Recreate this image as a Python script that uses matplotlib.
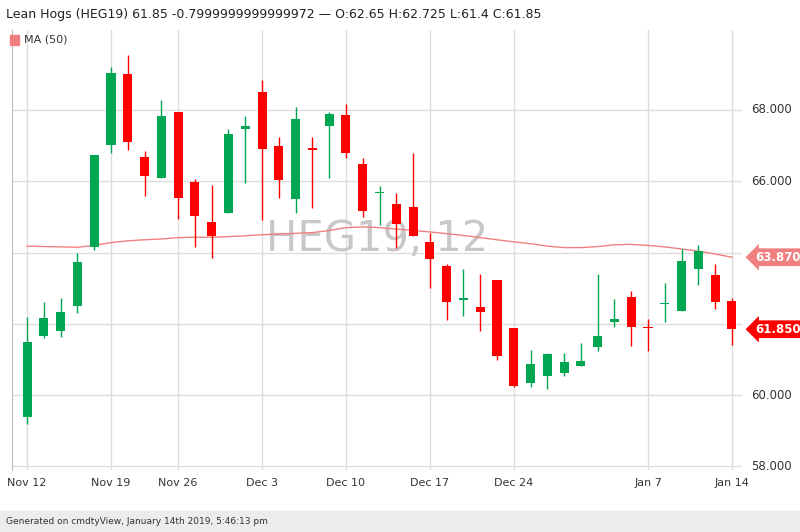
import matplotlib
matplotlib.use("Agg")
import matplotlib.pyplot as plt
from matplotlib.patches import Rectangle

dates = ["Nov 12","Nov 13","Nov 14","Nov 15","Nov 16","Nov 19","Nov 20","Nov 21","Nov 23",
         "Nov 26","Nov 27","Nov 28","Nov 29","Nov 30","Dec 3","Dec 4","Dec 5","Dec 6","Dec 7",
         "Dec 10","Dec 11","Dec 12","Dec 13","Dec 14","Dec 17","Dec 18","Dec 19","Dec 20","Dec 21",
         "Dec 24","Dec 26","Dec 27","Dec 28","Dec 31","Jan 2","Jan 3","Jan 4",
         "Jan 7","Jan 8","Jan 9","Jan 10","Jan 11","Jan 14"]
opens  = [59.38,61.65,61.79,62.49,64.15,67.02,69.00,66.69,66.10,67.95,65.99,64.86,65.10,67.46,68.50,66.99,65.49,66.92,67.55,
          67.86,66.48,65.66,65.36,65.27,64.31,63.63,62.68,62.47,63.22,61.89,60.33,60.54,60.62,60.81,61.34,62.05,62.76,
          61.92,62.55,62.36,63.53,63.36,62.65]
highs  = [62.19,62.60,62.72,63.98,66.74,69.20,69.55,66.85,68.28,67.95,66.06,65.89,67.47,67.83,68.84,67.25,68.09,67.25,67.95,
          68.17,66.64,65.87,65.68,66.78,64.55,63.69,63.53,63.41,63.22,61.89,61.28,61.18,61.18,61.47,63.41,62.71,62.93,
          62.13,63.15,64.09,64.21,63.67,62.725]
lows   = [59.20,61.60,61.62,62.30,64.07,66.80,66.88,65.60,66.10,64.94,64.16,63.84,65.10,65.96,64.90,65.53,65.12,65.26,66.08,
          66.64,64.99,64.77,64.12,64.46,63.02,62.12,62.21,61.80,61.00,60.23,60.23,60.18,60.54,60.81,61.24,61.91,61.38,
          61.24,62.06,62.36,63.08,62.43,61.40]
closes = [61.49,62.16,62.33,63.73,66.74,69.04,67.10,66.15,67.83,65.53,65.03,64.46,67.33,67.55,66.90,66.03,67.74,66.88,67.89,
          66.78,65.17,65.70,64.80,64.46,63.81,62.62,62.70,62.33,61.09,60.26,60.88,61.15,60.93,60.96,61.67,62.13,61.90,
          61.88,62.58,63.76,64.05,62.62,61.85]
ma50 = [64.18,64.17,64.16,64.15,64.20,64.28,64.33,64.36,64.38,64.42,64.43,64.43,64.45,64.47,64.50,64.52,64.54,64.56,64.62,
        64.70,64.72,64.70,64.66,64.62,64.58,64.53,64.48,64.42,64.36,64.30,64.25,64.18,64.14,64.14,64.17,64.22,64.23,
        64.20,64.16,64.10,64.04,63.96,63.87]
tick_idx = [0,5,9,14,19,24,29,37,42]
tick_labels = ["Nov 12","Nov 19","Nov 26","Dec 3","Dec 10","Dec 17","Dec 24","Jan 7","Jan 14"]
yticks = [58,60,62,64,66,68]

GREEN = "#00a651"; RED = "#ff0000"
fig = plt.figure(figsize=(8,5.32), dpi=100)
fig.patch.set_facecolor("white")
ax = fig.add_axes([0.015, 0.1165, 0.9125, 0.8275])
x = list(range(len(dates)))
for i in x:
    o,h,l,c = opens[i],highs[i],lows[i],closes[i]
    col = GREEN if c >= o else RED
    ax.vlines(i, l, h, color=col, lw=1, zorder=3)
    lo, hi = min(o,c), max(o,c)
    ax.add_patch(Rectangle((i-0.27, lo), 0.54, max(hi-lo, 0.04), color=col, zorder=4, lw=0))
ax.plot(x, ma50, color="#f08080", lw=1, zorder=2)
ax.set_xlim(-0.9, 42.6)
ax.set_ylim(57.9, 70.25)
ax.set_xticks(tick_idx)
ax.set_xticklabels(tick_labels, fontsize=8, color="#333")
ax.set_yticks([])
for yv in yticks:
    ax.axhline(yv, color="#dddddd", lw=1, zorder=0)
    if yv not in (62, 64):
        ax.text(1.012, (yv-57.9)/(70.25-57.9), f"{yv:.3f}", transform=ax.transAxes, fontsize=8.5, color="#333", va="center", ha="left")
for t in tick_idx:
    ax.axvline(t, color="#dddddd", lw=1, zorder=0)
ax.tick_params(axis="x", length=0, pad=6)
for s in ["top","right","bottom"]:
    ax.spines[s].set_visible(False)
ax.spines["left"].set_color("#bbbbbb")
ax.text(0.5, 0.525, "HEG19, 12", transform=ax.transAxes, fontsize=30, color="#c8c8c8", ha="center", va="center", zorder=1)
for val, col in [(ma50[-1], "#f08080"), (closes[-1], RED)]:
    ax.text(1.018, (val-57.9)/(70.25-57.9), f"{val:.3f}", transform=ax.transAxes, fontsize=8.5, color="white",
            va="center", ha="left", fontweight="bold",
            bbox=dict(boxstyle="larrow,pad=0.2", fc=col, ec="none"))
fig.text(0.008, 0.985, "Lean Hogs (HEG19) 61.85 -0.7999999999999972 — O:62.65 H:62.725 L:61.4 C:61.85",
         fontsize=9, color="#222", va="top")
fig.patches.append(Rectangle((0.012, 0.916), 0.012, 0.018, transform=fig.transFigure, color="#f08080"))
fig.text(0.03, 0.925, "MA (50)", fontsize=8, color="#333", va="center")
fig.patches.append(Rectangle((0, 0), 1, 0.04, transform=fig.transFigure, color="#ececec"))
fig.text(0.008, 0.02, "Generated on cmdtyView, January 14th 2019, 5:46:13 pm", fontsize=6.5, color="#333", va="center")
fig.savefig("out.png", dpi=100)
